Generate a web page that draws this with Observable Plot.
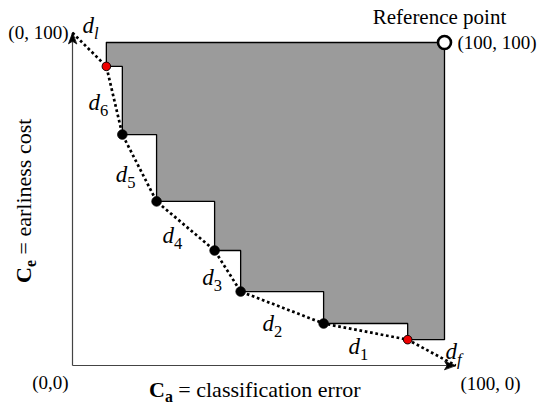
<!DOCTYPE html>
<html>
<head>
<meta charset="utf-8">
<script src="https://cdn.jsdelivr.net/npm/d3@7"></script>
<script src="https://cdn.jsdelivr.net/npm/@observablehq/plot@0.6"></script>
<style>
  html, body { margin: 0; padding: 0; background: white; }
  svg text { white-space: pre; }
</style>
</head>
<body>
<div id="chart"></div>
<script>
// ---- data (in cost units 0..100) ----
const ptX = [9.1, 13.4, 22.6, 38.2, 45.2, 67.5, 90.1];
const ptY = [92.6, 71.5, 50.8, 35.6, 22.9, 13.0, 8.0];
const ptKind = ["extreme", "inner", "inner", "inner", "inner", "inner", "extreme"];
const refPoint = [100, 100];
const axisMax = 103;

// segment labels d_l, d_6 ... d_1, d_f (markup: *italic*, **bold**, _{sub})
const dText = ["*d*_{*l*}", "*d*_{6}", "*d*_{5}", "*d*_{4}", "*d*_{3}", "*d*_{2}", "*d*_{1}", "*d*_{*f*}"];
const dX = [2.7, 4.3, 11.6, 24.2, 34.9, 51.1, 74.2, 100.3];
const dY = [105.3, 81.4, 59.1, 40.2, 27.2, 13.0, 5.9, 4.3];

const xTitle = "**C**_{**a**} = classification error";
const yTitle = "**C**_{**e**} = earliness cost";
const refLabel = "Reference point";

// ---- derived tables ----
const points = ptX.map((x, i) => ({x, y: ptY[i], kind: ptKind[i]}));
const extremes = points.filter(d => d.kind === "extreme");
const inners = points.filter(d => d.kind === "inner");
const frontier = [{x: 0, y: axisMax}, ...points, {x: axisMax, y: 0}];
const n = points.length;
const region = [{x: ptX[0], y: 100}, {x: 100, y: 100}, {x: 100, y: ptY[n - 1]}];
for (let i = n - 1; i >= 1; i--) {
  region.push({x: ptX[i], y: ptY[i]});
  region.push({x: ptX[i], y: ptY[i - 1]});
}
region.push({x: ptX[0], y: ptY[0]});
region.push({x: ptX[0], y: 100});
const dLabels = dText.map((t, i) => ({t, x: dX[i], y: dY[i]}));

const stealth = {
  draw(ctx, l) {
    ctx.moveTo(0, -l);
    ctx.lineTo(-4, 0);
    ctx.lineTo(0, -2.5);
    ctx.lineTo(4, 0);
    ctx.closePath();
  }
};

const chart = Plot.plot({
  width: 538,
  height: 405,
  margin: 0,
  x: {domain: [0, 100], range: [72, 444], axis: null},
  y: {domain: [0, 100], range: [365, 42], axis: null},
  style: {fontFamily: "'Liberation Serif', serif", background: "white", overflow: "visible"},
  marks: [
    Plot.line(region, {x: "x", y: "y", fill: "#9b9b9b", stroke: "black", strokeWidth: 1.3, strokeLinejoin: "miter"}),
    Plot.link([{x1: 0, y1: 0, x2: 0, y2: axisMax}, {x1: 0, y1: 0, x2: axisMax, y2: 0}],
      {x1: "x1", y1: "y1", x2: "x2", y2: "y2", stroke: "#444", strokeWidth: 1.2}),
    Plot.vector([{x: 0, y: axisMax, r: 0}, {x: axisMax, y: 0, r: 90}],
      {x: "x", y: "y", rotate: "r", length: 11, anchor: "end", shape: stealth, fill: "black", stroke: "black", strokeWidth: 0.8}),
    Plot.line(frontier, {x: "x", y: "y", stroke: "black", strokeWidth: 2.7, strokeDasharray: "2.7 2.7", strokeLinecap: "butt"}),
    Plot.dot(inners, {x: "x", y: "y", r: 4.8, fill: "black", stroke: "black", strokeWidth: 0.8}),
    Plot.dot(extremes, {x: "x", y: "y", r: 4.3, fill: "#ee0000", stroke: "black", strokeWidth: 0.9}),
    Plot.dot([refPoint], {x: d => d[0], y: d => d[1], r: 6.5, fill: "white", stroke: "black", strokeWidth: 2.6}),
    Plot.text(dLabels, {x: "x", y: "y", text: "t", textAnchor: "start", fontSize: 23}),
    Plot.text([refLabel], {x: refPoint[0], y: refPoint[1], text: d => d, dy: -25, dx: -5, fontSize: 21}),
    Plot.text(["(100, 100)"], {x: refPoint[0], y: refPoint[1], text: d => d, dx: 13, textAnchor: "start", fontSize: 19}),
    Plot.text(["(0, 100)"], {x: 0, y: axisMax, text: d => d, dx: -4, textAnchor: "end", fontSize: 19}),
    Plot.text(["(0,0)"], {x: 0, y: 0, text: d => d, dx: -22, dy: 17, fontSize: 19}),
    Plot.text(["(100, 0)"], {x: 100, y: 0, text: d => d, dx: 46, dy: 18, fontSize: 19}),
    Plot.text([xTitle], {x: 49, y: 0, text: d => d, dy: 24, fontSize: 22}),
    Plot.text([yTitle], {x: 0, y: 51, text: d => d, dx: -49, rotate: -90, fontSize: 22})
  ]
});

// turn the tiny markup into real tspans (bold / italic / subscript)
function parseInline(str, sub) {
  const out = [];
  const re = /\*\*([^*]+)\*\*|\*([^*]+)\*|([^*]+)/g;
  let m;
  while ((m = re.exec(str))) {
    if (m[1] !== undefined) out.push({text: m[1], bold: true, sub});
    else if (m[2] !== undefined) out.push({text: m[2], italic: true, sub});
    else out.push({text: m[3], sub});
  }
  return out;
}
function richText(svg) {
  svg.querySelectorAll("text").forEach(t => {
    const s = t.textContent;
    if (!/[_*]/.test(s)) return;
    const fs = parseFloat(getComputedStyle(t).fontSize) || 16;
    const shift = fs * 0.26;
    const tokens = [];
    const re = /_\{([^}]*)\}|([^_]+)/g;
    let m;
    while ((m = re.exec(s))) {
      if (m[1] !== undefined) tokens.push(...parseInline(m[1], true));
      else tokens.push(...parseInline(m[2], false));
    }
    t.textContent = "";
    let inSub = false;
    for (const tok of tokens) {
      const ts = document.createElementNS("http://www.w3.org/2000/svg", "tspan");
      if (tok.sub && !inSub) { ts.setAttribute("dy", shift); inSub = true; }
      else if (!tok.sub && inSub) { ts.setAttribute("dy", -shift); inSub = false; }
      if (tok.sub) ts.setAttribute("font-size", fs * 0.72);
      if (tok.bold) ts.setAttribute("font-weight", "bold");
      if (tok.italic) ts.setAttribute("font-style", "italic");
      ts.textContent = tok.text;
      t.appendChild(ts);
    }
  });
}

document.getElementById("chart").appendChild(chart);
richText(chart);
</script>
</body>
</html>
